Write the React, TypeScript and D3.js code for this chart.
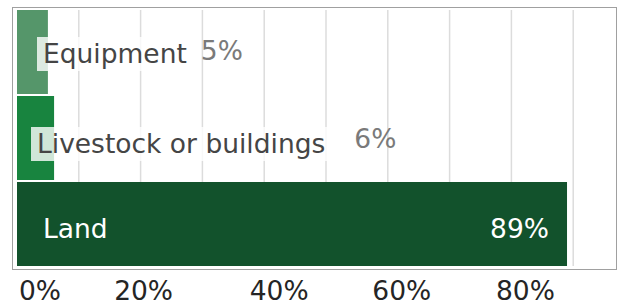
import React from 'react'
import * as d3 from 'd3'

const categories = ['Equipment', 'Livestock or buildings', 'Land']
const values = [5, 6, 89]
const barColors = ['#55966a', '#18843f', '#12522c']
const tickValues = [0, 20, 40, 60, 80]

const width = 620
const height = 306
const font = '"DejaVu Sans", Verdana, sans-serif'
const fontSize = 26.5

const measure = (() => {
  let ctx: CanvasRenderingContext2D | null = null
  return (s: string) => {
    if (!ctx) ctx = document.createElement('canvas').getContext('2d')
    if (!ctx) return s.length * fontSize * 0.6
    ctx.font = `${fontSize}px ${font}`
    return ctx.measureText(s).width
  }
})()

export default function App() {
  const x = d3.scaleLinear().domain([0, 100]).range([17, 635])
  const y = d3.scaleBand<string>()
    .domain(categories)
    .range([10, 266])
    .paddingInner(2 / 86)
    .paddingOuter(0)

  const grid = d3.range(10, 100, 10).filter(v => x(v) < 612)

  // small layout nudges to follow the original label placement
  const labelDx = [26, 20, 26]
  const labelDy = [11, 15, 14]
  const valueDy = [8, 10, 14]
  const valueGap = [14, 29, 0]
  const tickDx = [23, 3, 15, 14, 14]

  return (
    <svg width={width} height={height}
      style={{ position: 'absolute', left: 0, top: 0, background: '#fff' }}>
      <rect x={12.5} y={7.5} width={604} height={262} fill="#fff" stroke="#a0a0a0" />
      {grid.map(v => (
        <line key={v} x1={x(v)} x2={x(v)} y1={10} y2={266} stroke="#dcdcdc" strokeWidth={1.5} />
      ))}
      {categories.map((c, i) => (
        <rect key={c} x={x(0)} y={y(c)} width={x(values[i]) - x(0)}
          height={y.bandwidth()} fill={barColors[i]} />
      ))}
      {categories.map((c, i) => {
        const cy = (y(c) ?? 0) + y.bandwidth() / 2
        const lx = x(0) + labelDx[i]
        const w = measure(c)
        const inside = i === categories.length - 1
        const vText = `${values[i]}%`
        return (
          <g key={c} fontFamily={font} fontSize={fontSize}>
            {!inside && (
              <rect x={lx - 6} y={cy + labelDy[i] - 26} width={w + 12} height={34}
                fill="#fff" fillOpacity={0.8} />
            )}
            <text x={lx} y={cy + labelDy[i]} fill={inside ? '#fff' : '#454545'}>{c}</text>
            {inside ? (
              <text x={x(values[i]) - 18} y={cy + valueDy[i]} fill="#fff" textAnchor="end">{vText}</text>
            ) : (
              <text x={lx + w + valueGap[i]} y={cy + valueDy[i]} fill="#7a7a7a">{vText}</text>
            )}
          </g>
        )
      })}
      {tickValues.map((v, i) => (
        <text key={v} x={x(v) + tickDx[i]} y={300} textAnchor="middle"
          fontFamily={font} fontSize={fontSize} fill="#252525">{`${v}%`}</text>
      ))}
    </svg>
  )
}
